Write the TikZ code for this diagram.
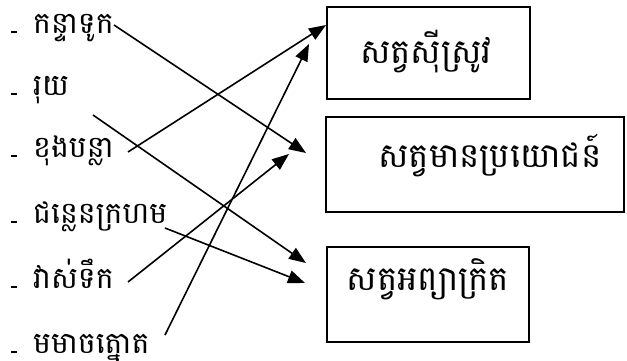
\documentclass[tikz,border=0pt]{standalone}
\usepackage{fontspec}
\newfontfamily\khmer[Script=Khmer]{Battambang}
\usetikzlibrary{arrows.meta}
\begin{document}
\begin{tikzpicture}[x=1pt,y=-1pt,
  item/.style={anchor=base west,inner sep=0pt,font=\khmer\fontsize{30}{34}\selectfont},
  dashmark/.style={fill,minimum width=6pt,minimum height=2.5pt,inner sep=0pt},
  box/.style={draw,line width=1.3pt,inner sep=0pt},
  boxtext/.style={anchor=base,inner sep=0pt,font=\khmer\fontsize{34}{38}\selectfont},
  conn/.style={line width=1.6pt,-{Triangle[length=17pt,width=13pt]}}]
\useasboundingbox (0,0) rectangle (627,360);
% boxes
\node[box,minimum width=203pt,minimum height=92pt] (b1) at (428.5,53) {};
\node[boxtext] (t1) at (426,63) {សត្វស៊ីស្រូវ};
\node[box,minimum width=298pt,minimum height=95pt] (b2) at (475,164.5) {};
\node[boxtext] (t2) at (490,167) {សត្វមានប្រយោជន៍};
\node[box,minimum width=202pt,minimum height=95pt] (b3) at (428,294.5) {};
\node[boxtext] (t3) at (428,290) {សត្វអព្យាក្រិត};
% left items
\node[dashmark] (d1) at (13.5,32) {};
\node[item] (i1) at (33,33) {កន្ទាទូក};
\node[dashmark] (d2) at (13.5,94) {};
\node[item] (i2) at (33,95) {រុយ};
\node[dashmark] (d3) at (13.5,156) {};
\node[item] (i3) at (33,157) {ខុងបន្លា};
\node[dashmark] (d4) at (13.5,222) {};
\node[item] (i4) at (33,223) {ជន្លេនក្រហម};
\node[dashmark] (d5) at (13.5,287) {};
\node[item] (i5) at (33,288) {វាស់ទឹក};
\node[dashmark] (d6) at (13.5,352) {};
\node[item] (i6) at (33,353) {មមាចត្នោត};
% connector ends
\coordinate (s1) at (114,25);
\coordinate (s2) at (93,115);
\coordinate (s3) at (128,152);
\coordinate (s4) at (165,228);
\coordinate (s5) at (128,282);
\coordinate (s6) at (165,335);
\coordinate (e1) at (306,153);
\coordinate (e2) at (306,263);
\coordinate (e3) at (326,25);
\coordinate (e4) at (305,283);
\coordinate (e5) at (289,154);
\coordinate (e6) at (309,44);
\draw[conn] (s1) -- (e1);
\draw[conn] (s2) -- (e2);
\draw[conn] (s3) -- (e3);
\draw[conn] (s4) -- (e4);
\draw[conn] (s5) -- (e5);
\draw[conn] (s6) -- (e6);
\end{tikzpicture}
\end{document}
